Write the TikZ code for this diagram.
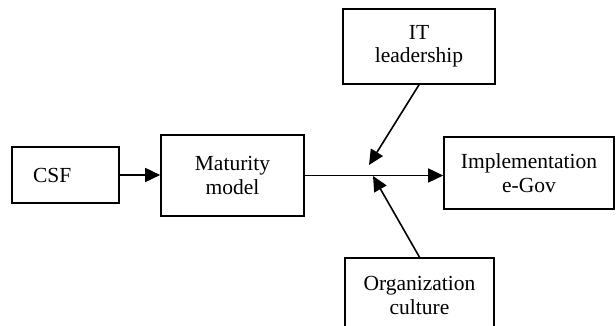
\documentclass[tikz,border=0pt]{standalone}
\usepackage{fontspec}
\setmainfont{Liberation Serif}
\usetikzlibrary{arrows.meta}

\begin{document}
\begin{tikzpicture}[
  x=1pt,y=-1pt,
  every node/.style={align=center,font=\fontsize{21.5}{23.5}\selectfont},
  factorBox/.style={draw,line width=1.6pt,rectangle,inner sep=0pt},
  flowArrow/.style={-{Triangle[length=15pt,width=14pt]},line width=1.6pt,black}]

  \clip (0,0) rectangle (616,326);

  % Position the nodes at coordinates
  \node[factorBox,minimum width=107,minimum height=56,text width=65,align=left,inner xsep=21pt] (csf) at (65.5,175) {CSF};
  \node[factorBox,minimum width=143,minimum height=81] (maturity) at (232.5,175.5) {Maturity\\model};
  \node[factorBox,minimum width=170,minimum height=72] (egov) at (529,173) {Implementation\\e-Gov};
  \node[factorBox,minimum width=152,minimum height=75] (itLead) at (419,46.5) {IT\\leadership};
  \node[factorBox,minimum width=149,minimum height=75] (orgCult) at (419.5,295.5) {Organization\\culture};

  % where the moderators meet the main line
  \coordinate (itTip) at (369,165);
  \coordinate (orgTip) at (373,176);

  % main path
  \draw [flowArrow] (csf.east) -- (maturity.west |- csf.east);
  \draw [flowArrow] (maturity.east) -- (egov.west |- maturity.east);

  % moderators
  \draw [flowArrow] (itLead.south) -- (itTip);
  \draw [flowArrow] (orgCult.north) -- (orgTip);
\end{tikzpicture}
\end{document}
